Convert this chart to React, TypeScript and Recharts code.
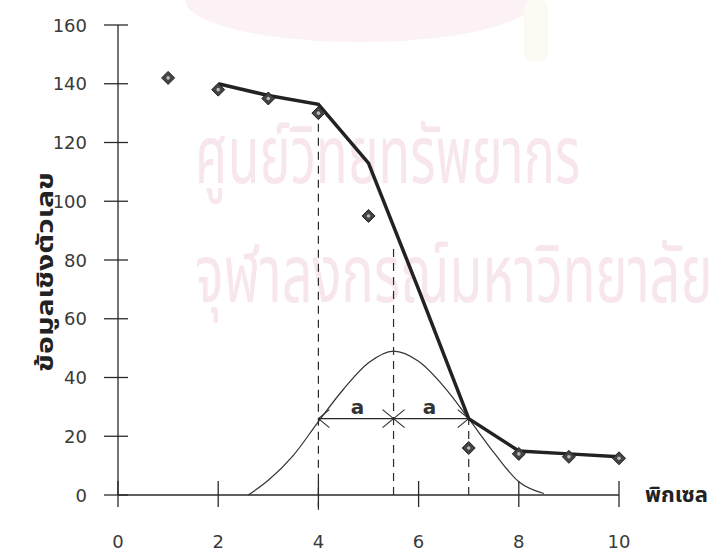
import React from 'react';
import { ComposedChart, Line, Scatter, XAxis, YAxis, ReferenceLine, Label } from 'recharts';

// axis ticks
const xTicks = [0, 2, 4, 6, 8, 10];
const yTicks = [0, 20, 40, 60, 80, 100, 120, 140, 160];

// measured pixel values (diamonds)
const pixelX = [1, 2, 3, 4, 5, 7, 8, 9, 10];
const pixelValues = [142, 138, 135, 130, 95, 16, 14, 13, 12.5];

// thick fitted edge profile
const edgeX = [2, 3, 4, 5, 6, 7, 8, 9, 10];
const edgeValues = [140, 136, 133, 113, 70, 26, 15, 14, 13];

// thin bell curve
const bellX = [2.6, 3, 3.5, 4, 4.5, 5, 5.5, 6, 6.5, 7, 7.5, 8, 8.5];
const bellValues = [0, 5, 13.5, 25, 36, 45, 49, 45.5, 37, 26, 14.5, 4.5, 0.5];

// dashed guides
const guideX = [4, 5.5, 7];
const guideTop = [130, 85, 26];
const guideBottom = [-5, 0, 0];

// width marker "a"
const markLevel = 26;
const markX = [4, 5.5, 7];
const markDir = ['L', 'B', 'R'];
const labelX = [4.78, 6.22];
const labelLevel = 30;

const pixelData = pixelX.map((x, i) => ({ x, y: pixelValues[i] }));
const edgeData = edgeX.map((x, i) => ({ x, y: edgeValues[i] }));
const bellData = bellX.map((x, i) => ({ x, y: bellValues[i] }));
const markData = markX.map((x, i) => ({ x, y: markLevel, dir: markDir[i] }));
const labelData = labelX.map((x) => ({ x, y: labelLevel }));

const INK = '#2a2a2a';
const NUM_FONT = '"DejaVu Sans", sans-serif';
const THAI_FONT = '"Noto Sans Thai", "Noto Sans", "DejaVu Sans", sans-serif';

const YTick = ({ x, y, payload }: any) => (
  <g>
    <line x1={x - 14} x2={x + 10} y1={y} y2={y} stroke={INK} strokeWidth={1.3} />
    <text x={x - 31} y={y} textAnchor="end" dominantBaseline="central" fontSize={18} fill="#3a3a3a" fontFamily={NUM_FONT}>
      {payload.value}
    </text>
  </g>
);

const XTick = ({ x, y, payload }: any) => (
  <g>
    <line x1={x} x2={x} y1={y - 14} y2={y + 12} stroke={INK} strokeWidth={1.3} />
    <text x={x} y={y + 46} textAnchor="middle" dominantBaseline="central" fontSize={18} fill="#3a3a3a" fontFamily={NUM_FONT}>
      {payload.value}
    </text>
  </g>
);

const Diamond = ({ cx, cy }: any) => (
  <g>
    <polygon
      points={`${cx},${cy - 6.5} ${cx + 6.5},${cy} ${cx},${cy + 6.5} ${cx - 6.5},${cy}`}
      fill="#444"
      stroke="#222"
      strokeWidth={1}
    />
    <circle cx={cx} cy={cy} r={1.8} fill="#bbb" />
  </g>
);

const ArrowMark = ({ cx, cy, payload }: any) => {
  const arms: number[] = payload.dir === 'L' ? [1] : payload.dir === 'R' ? [-1] : [1, -1];
  return (
    <g stroke={INK} strokeWidth={1.1}>
      {arms.map((s) => (
        <g key={s}>
          <line x1={cx} y1={cy} x2={cx + s * 11} y2={cy - 9} />
          <line x1={cx} y1={cy} x2={cx + s * 11} y2={cy + 9} />
        </g>
      ))}
    </g>
  );
};

const LetterA = ({ cx, cy }: any) => (
  <text x={cx} y={cy} textAnchor="middle" dominantBaseline="central" fontSize={20} fontWeight="bold" fill="#333" fontFamily={NUM_FONT}>
    a
  </text>
);

// faint thesis watermark behind the plot
const Watermark = () => (
  <svg width={719} height={551} style={{ position: 'absolute', left: 0, top: 0 }}>
    <ellipse cx={360} cy={0} rx={175} ry={42} fill="#fcf1f5" />
    <rect x={524} y={0} width={24} height={62} rx={8} fill="#fcfaf2" />
    <g transform="translate(195,183) scale(1,1.55)">
      <text x={0} y={0} fontSize={52} fill="#f8e6ee" fontFamily={THAI_FONT}>
        ศูนย์วิทยทรัพยากร
      </text>
    </g>
    <g transform="translate(195,302) scale(1,1.5)">
      <text x={0} y={0} fontSize={54} fill="#f8e6ee" fontFamily={THAI_FONT}>
        จุฬาลงกรณ์มหาวิทยาลัย
      </text>
    </g>
  </svg>
);

export default function App() {
  return (
    <div style={{ position: 'absolute', left: 0, top: 0, width: 719, height: 551, background: '#fff' }}>
      <Watermark />
      <div style={{ position: 'absolute', left: 0, top: 0 }}>
        <ComposedChart width={719} height={551} margin={{ top: 25, right: 100, bottom: 26, left: 58 }}>
          <XAxis
            type="number"
            dataKey="x"
            domain={[0, 10]}
            ticks={xTicks}
            interval={0}
            tickSize={0}
            tickMargin={0}
            tick={<XTick />}
            axisLine={{ stroke: INK, strokeWidth: 1.3 }}
            tickLine={false}
            height={30}
          >
            <Label
              content={({ viewBox }: any) => (
                <text
                  x={viewBox.x + viewBox.width + 26}
                  y={viewBox.y}
                  dominantBaseline="central"
                  fontSize={21}
                  fontWeight="bold"
                  fill="#222"
                  fontFamily={THAI_FONT}
                  textLength={63}
                  lengthAdjust="spacingAndGlyphs"
                >
                  พิกเซล
                </text>
              )}
            />
          </XAxis>
          <YAxis
            type="number"
            domain={[0, 160]}
            ticks={yTicks}
            interval={0}
            tickSize={0}
            tickMargin={0}
            tick={<YTick />}
            axisLine={{ stroke: INK, strokeWidth: 1.3 }}
            tickLine={false}
            width={60}
          >
            <Label
              content={({ viewBox }: any) => (
                <text
                  transform={`translate(${viewBox.x - 12}, ${viewBox.y + viewBox.height / 2 + 12}) rotate(-90)`}
                  textAnchor="middle"
                  dominantBaseline="central"
                  fontSize={23}
                  fontWeight="bold"
                  fill="#222"
                  fontFamily={THAI_FONT}
                  textLength={200}
                  lengthAdjust="spacingAndGlyphs"
                >
                  ข้อมูลเชิงตัวเลข
                </text>
              )}
            />
          </YAxis>
          {guideX.map((gx, i) => (
            <ReferenceLine
              key={gx}
              segment={[{ x: gx, y: guideBottom[i] }, { x: gx, y: guideTop[i] }]}
              stroke={INK}
              strokeWidth={1.2}
              strokeDasharray="8 6"
              ifOverflow="visible"
            />
          ))}
          <ReferenceLine
            segment={[{ x: markX[0], y: markLevel }, { x: markX[markX.length - 1], y: markLevel }]}
            stroke={INK}
            strokeWidth={1.2}
            ifOverflow="visible"
          />
          <Line
            data={bellData}
            dataKey="y"
            type="monotone"
            stroke="#333"
            strokeWidth={1.2}
            dot={false}
            activeDot={false}
            isAnimationActive={false}
          />
          <Line
            data={edgeData}
            dataKey="y"
            type="linear"
            stroke="#222"
            strokeWidth={3.5}
            dot={false}
            activeDot={false}
            isAnimationActive={false}
          />
          <Scatter data={markData} dataKey="y" shape={<ArrowMark />} isAnimationActive={false} />
          <Scatter data={labelData} dataKey="y" shape={<LetterA />} isAnimationActive={false} />
          <Scatter data={pixelData} dataKey="y" shape={<Diamond />} isAnimationActive={false} />
        </ComposedChart>
      </div>
    </div>
  );
}
